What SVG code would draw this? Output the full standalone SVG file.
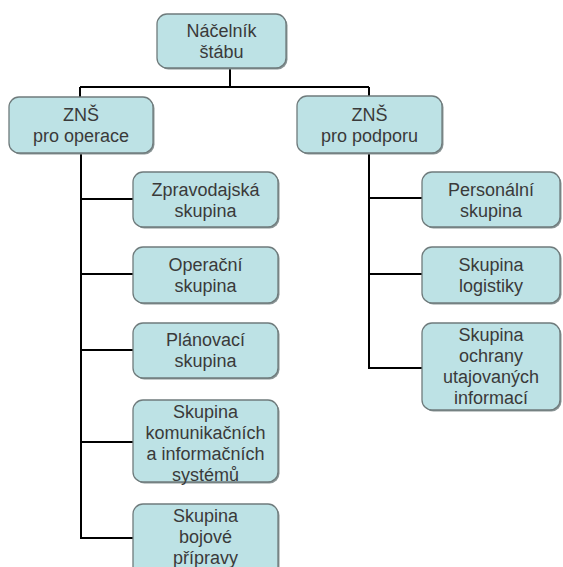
<svg xmlns="http://www.w3.org/2000/svg" width="563" height="567" viewBox="0 0 563 567">
<defs>
<style>
.sh{fill:#8a9596;}
.bx{fill:#bde2e5;stroke:#6f7b7c;stroke-width:1.3;}
.t{font-family:"Liberation Sans",Arial,sans-serif;font-size:18px;fill:#3a3a3a;text-anchor:middle;}
.c{stroke:#000;stroke-width:2;fill:none;}
</style>
</defs>
<rect width="563" height="567" fill="#fff"/>
<g id="connectors">
<path class="c" d="M230 68V87M80 87H369M80 87V97M369 87V96"/>
<path class="c" d="M81 153V539M81 199H133M81 274H133M81 350H133M81 442H133M81 538H133"/>
<path class="c" d="M369 153V369M369 198H422M369 274H422M369 368H422"/>
</g>
<g id="n-nacelnik">
<rect class="sh" x="158.5" y="15.5" width="129" height="54" rx="10"/>
<rect class="bx" x="157" y="14" width="129" height="54" rx="10"/>
<text class="t" x="221.5" y="37">Náčelník</text>
<text class="t" x="221.5" y="58">štábu</text>
</g>
<g id="n-zns-op">
<rect class="sh" x="10.5" y="98.5" width="144" height="56" rx="10"/>
<rect class="bx" x="9" y="97" width="144" height="56" rx="10"/>
<text class="t" x="81" y="121">ZNŠ</text>
<text class="t" x="81" y="142">pro operace</text>
</g>
<g id="n-zns-pod">
<rect class="sh" x="298.5" y="97.5" width="145" height="57" rx="10"/>
<rect class="bx" x="297" y="96" width="145" height="57" rx="10"/>
<text class="t" x="369.5" y="121">ZNŠ</text>
<text class="t" x="369.5" y="142">pro podporu</text>
</g>
<g id="n-zprav">
<rect class="sh" x="134.5" y="173.5" width="145" height="55" rx="10"/>
<rect class="bx" x="133" y="172" width="145" height="55" rx="10"/>
<text class="t" x="205.5" y="195.5">Zpravodajská</text>
<text class="t" x="205.5" y="216.5">skupina</text>
</g>
<g id="n-oper">
<rect class="sh" x="134.5" y="248.5" width="145" height="56" rx="10"/>
<rect class="bx" x="133" y="247" width="145" height="56" rx="10"/>
<text class="t" x="205.5" y="271">Operační</text>
<text class="t" x="205.5" y="292">skupina</text>
</g>
<g id="n-plan">
<rect class="sh" x="134.5" y="324.5" width="145" height="55" rx="10"/>
<rect class="bx" x="133" y="323" width="145" height="55" rx="10"/>
<text class="t" x="205.5" y="346">Plánovací</text>
<text class="t" x="205.5" y="367">skupina</text>
</g>
<g id="n-kis">
<rect class="sh" x="134.5" y="401.5" width="145" height="82" rx="10"/>
<rect class="bx" x="133" y="400" width="145" height="82" rx="10"/>
<text class="t" x="205.5" y="418">Skupina</text>
<text class="t" x="205.5" y="439">komunikačních</text>
<text class="t" x="205.5" y="460">a informačních</text>
<text class="t" x="205.5" y="481">systémů</text>
</g>
<g id="n-bojove">
<rect class="sh" x="134.5" y="505.5" width="145" height="80" rx="10"/>
<rect class="bx" x="133" y="504" width="145" height="80" rx="10"/>
<text class="t" x="205.5" y="522">Skupina</text>
<text class="t" x="205.5" y="543">bojové</text>
<text class="t" x="205.5" y="564">přípravy</text>
</g>
<g id="n-pers">
<rect class="sh" x="423.5" y="173.5" width="138" height="55" rx="10"/>
<rect class="bx" x="422" y="172" width="138" height="55" rx="10"/>
<text class="t" x="491" y="195.5">Personální</text>
<text class="t" x="491" y="216.5">skupina</text>
</g>
<g id="n-log">
<rect class="sh" x="423.5" y="248.5" width="138" height="56" rx="10"/>
<rect class="bx" x="422" y="247" width="138" height="56" rx="10"/>
<text class="t" x="491" y="271">Skupina</text>
<text class="t" x="491" y="292">logistiky</text>
</g>
<g id="n-ochr">
<rect class="sh" x="423.5" y="324.5" width="138" height="87" rx="10"/>
<rect class="bx" x="422" y="323" width="138" height="87" rx="10"/>
<text class="t" x="491" y="341">Skupina</text>
<text class="t" x="491" y="362">ochrany</text>
<text class="t" x="491" y="383">utajovaných</text>
<text class="t" x="491" y="404">informací</text>
</g>
</svg>
